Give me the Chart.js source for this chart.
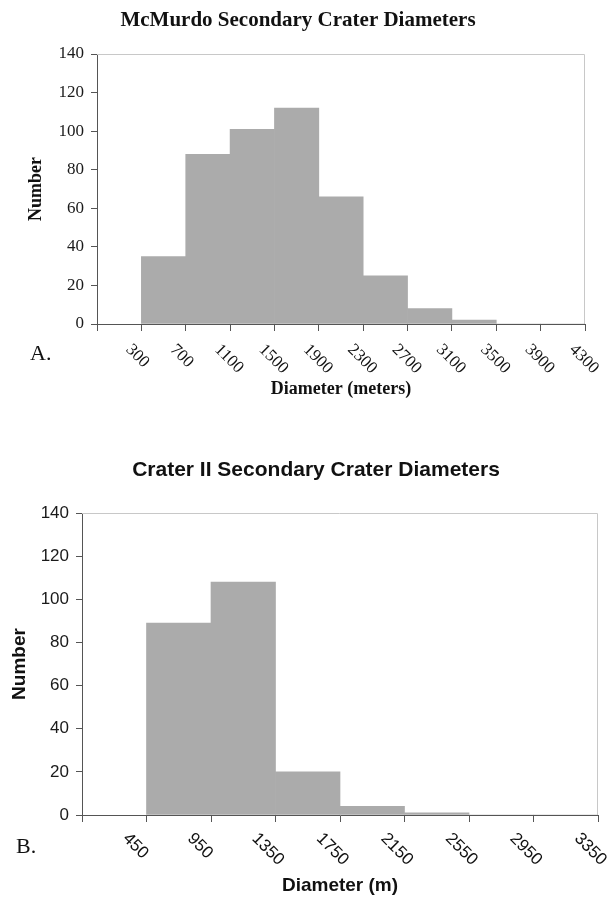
<!DOCTYPE html>
<html>
<head>
<meta charset="utf-8">
<title>Secondary Crater Diameters</title>
<script src="https://cdn.jsdelivr.net/npm/chart.js@4.4.0/dist/chart.umd.min.js"></script>
<style>
  body { margin: 0; background: #fff; }
  #wrap { position: relative; width: 611px; height: 909px; }
  canvas { position: absolute; left: 0; }
  #chartA { top: 0; }
  #chartB { top: 420px; }
</style>
</head>
<body>
<div id="wrap">
  <canvas id="chartA" width="611" height="410"></canvas>
  <canvas id="chartB" width="611" height="489"></canvas>
</div>
<script>
// A. McMurdo: bin edge labels and crater count in each bin between two edges
let mcmurdo_edges = ['300', '700', '1100', '1500', '1900', '2300', '2700', '3100', '3500', '3900', '4300'];
let mcmurdo_counts = [35, 88, 101, 112, 66, 25, 8, 2, 0, 0];

// B. Crater II
let crater2_edges = ['450', '950', '1350', '1750', '2150', '2550', '2950', '3350'];
let crater2_counts = [89, 108, 20, 4, 1, 0, 0];

let y_min = 0;
let y_max = 140;
let y_step = 20;

const SERIF = '"Liberation Serif", "Times New Roman", serif';
const SANS = '"Liberation Sans", Arial, sans-serif';

function textPlugin(s) {
    return {
        id: 'texts',
        beforeDatasetsDraw(chart) {
            // light frame on top and right of plot area
            const ctx = chart.ctx;
            const a = chart.chartArea;
            ctx.save();
            ctx.strokeStyle = '#c8c8c8';
            ctx.lineWidth = 1;
            ctx.beginPath();
            ctx.moveTo(a.left, a.top + 0.5);
            ctx.lineTo(a.right - 0.5, a.top + 0.5);
            ctx.lineTo(a.right - 0.5, a.bottom);
            ctx.stroke();
            ctx.restore();
        },
        afterDraw(chart) {
            const ctx = chart.ctx;
            const a = chart.chartArea;
            const xs = chart.scales.x;
            ctx.save();
            ctx.fillStyle = '#111';

            ctx.font = 'bold ' + s.titleSize + 'px ' + s.family;
            ctx.textAlign = 'center';
            ctx.textBaseline = 'alphabetic';
            ctx.fillText(s.title, s.titleX, s.titleY);

            ctx.font = s.letterSize + 'px ' + SERIF;
            ctx.textAlign = 'left';
            ctx.fillText(s.letter, s.letterX, s.letterY);

            // slanted edge labels under the tick marks
            ctx.font = '17px ' + s.family;
            ctx.textBaseline = 'middle';
            s.edges.forEach((lab, i) => {
                const px = xs.getPixelForValue(i + 1);
                ctx.save();
                ctx.translate(px - s.labDx, a.bottom + s.labDy);
                ctx.rotate(Math.PI / 4);
                ctx.fillText(lab, 0, 0);
                ctx.restore();
            });
            ctx.restore();
        }
    };
}

function drawHistogram(id, s) {
    const n = s.edges.length;
    const bins = s.counts.map((c, i) => ({ x: i + 1.5, y: c }));
    new Chart(document.getElementById(id), {
        type: 'bar',
        data: {
            datasets: [{
                data: bins,
                backgroundColor: '#ababab',
                borderWidth: 0,
                barPercentage: 1,
                categoryPercentage: 1
            }]
        },
        options: {
            responsive: false,
            animation: false,
            layout: { padding: { top: s.padTop, right: s.padRight, left: 0, bottom: 0 } },
            plugins: {
                legend: { display: false },
                tooltip: { enabled: false },
                title: { display: false }
            },
            scales: {
                x: {
                    type: 'linear',
                    min: 0,
                    max: n,
                    offset: false,
                    afterBuildTicks: sc => {
                        sc.ticks = [];
                        for (let i = 0; i <= n; i++) sc.ticks.push({ value: i });
                    },
                    afterFit: sc => { sc.height = s.xHeight; },
                    ticks: { display: false },
                    grid: { offset: false, drawOnChartArea: false, tickLength: 7, color: '#555' },
                    border: { color: '#555' },
                    title: {
                        display: true,
                        text: s.xTitle,
                        color: '#111',
                        font: { family: s.family, size: s.axisSize, weight: 'bold' },
                        padding: { top: 0, bottom: s.xTitlePad }
                    }
                },
                y: {
                    min: y_min,
                    max: y_max,
                    afterFit: sc => { sc.width = s.yWidth; },
                    ticks: {
                        stepSize: y_step,
                        padding: 7,
                        color: '#1a1a1a',
                        font: { family: s.family, size: 17 }
                    },
                    grid: { drawOnChartArea: false, tickLength: 6, color: '#555' },
                    border: { color: '#555' },
                    title: {
                        display: true,
                        text: 'Number',
                        color: '#111',
                        font: { family: s.family, size: s.axisSize, weight: 'bold' },
                        padding: { top: s.yTitlePad, bottom: 0 }
                    }
                }
            }
        },
        plugins: [textPlugin(s)]
    });
}

drawHistogram('chartA', {
    edges: mcmurdo_edges,
    counts: mcmurdo_counts,
    family: SERIF,
    title: 'McMurdo Secondary Crater Diameters',
    titleSize: 21, titleX: 298, titleY: 26,
    xTitle: 'Diameter (meters)',
    axisSize: 18, xTitlePad: 10, yTitlePad: 26,
    letter: 'A.', letterSize: 22, letterX: 30, letterY: 360,
    padTop: 54, padRight: 26, yWidth: 97, xHeight: 86,
    labDx: 13, labDy: 23
});

drawHistogram('chartB', {
    edges: crater2_edges,
    counts: crater2_counts,
    family: SANS,
    title: 'Crater II Secondary Crater Diameters',
    titleSize: 21, titleX: 316, titleY: 56,
    xTitle: 'Diameter (m)',
    axisSize: 19, xTitlePad: 12, yTitlePad: 8,
    letter: 'B.', letterSize: 22, letterX: 16, letterY: 433,
    padTop: 93, padRight: 13, yWidth: 82, xHeight: 94,
    labDx: 21, labDy: 21
});
</script>
</body>
</html>
